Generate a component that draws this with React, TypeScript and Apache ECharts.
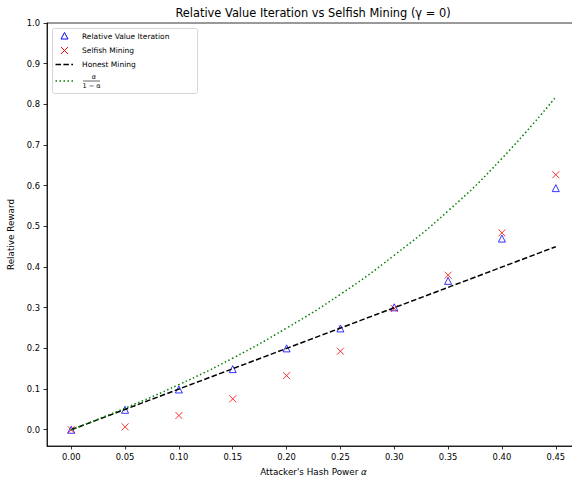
import React, { useEffect, useRef } from "react";
import * as echarts from "echarts";

const alphas = [0, 0.05, 0.1, 0.15, 0.2, 0.25, 0.3, 0.35, 0.4, 0.45];
const rviValues = [0.0, 0.049, 0.099, 0.149, 0.2, 0.249, 0.301, 0.366, 0.47, 0.594];
const selfishValues = [0.0, 0.007, 0.035, 0.076, 0.133, 0.193, 0.298, 0.38, 0.484, 0.627];
const honestValues = [0.0, 0.45];
const honestAlphas = [0, 0.45];
const ratioValues = [0.0, 0.053, 0.111, 0.176, 0.25, 0.333, 0.429, 0.538, 0.667, 0.818];
const xTicks = [0, 0.05, 0.1, 0.15, 0.2, 0.25, 0.3, 0.35, 0.4, 0.45];
const yTicks = [0, 0.1, 0.2, 0.3, 0.4, 0.5, 0.6, 0.7, 0.8, 0.9, 1.0];

const FONT = "DejaVu Sans";

export default function App() {
  const ref = useRef<HTMLDivElement>(null);
  useEffect(() => {
    if (!ref.current) return;
    const chart = echarts.init(ref.current, null, { renderer: "svg" });
    const axisCommon = {
      axisLine: { show: true, onZero: false, lineStyle: { color: "#000", width: 0.8 } },
      axisTick: { show: true, length: 3.5, lineStyle: { color: "#000", width: 0.8 } },
      splitLine: { show: false },
    };
    const legX = 52.5;
    const legY = 28.5;
    const textStyle = { fontFamily: FONT, fontSize: 7.5, fill: "#000" };
    chart.setOption({
      animation: false,
      title: {
        text: "Relative Value Iteration vs Selfish Mining (γ = 0)",
        left: 313,
        top: 7,
        padding: 0,
        textAlign: "center",
        textStyle: { fontFamily: FONT, fontSize: 11.4, fontWeight: "normal", color: "#000" },
      },
      grid: {
        left: 47,
        top: 23,
        width: 533,
        height: 423,
        show: true,
        borderColor: "#000",
        borderWidth: 0.8,
        outerBoundsMode: "none",
      },
      xAxis: {
        type: "value",
        min: -0.0225,
        max: 0.4725,
        ...axisCommon,
        axisTick: { ...axisCommon.axisTick, customValues: xTicks },
        axisLabel: {
          customValues: xTicks,
          formatter: (v: number) => v.toFixed(2),
          fontFamily: FONT,
          fontSize: 8.4,
          color: "#000",
          margin: 7,
        },
        name: "Attacker's Hash Power {i|α}",
        nameLocation: "middle",
        nameGap: 21,
        nameTextStyle: {
          fontFamily: FONT,
          fontSize: 8.8,
          color: "#000",
          rich: { i: { fontFamily: FONT, fontSize: 8.8, fontStyle: "italic", color: "#000" } },
        },
      },
      yAxis: {
        type: "value",
        min: -0.04,
        max: 1.0,
        ...axisCommon,
        axisTick: { ...axisCommon.axisTick, customValues: yTicks },
        axisLabel: {
          customValues: yTicks,
          formatter: (v: number) => v.toFixed(1),
          fontFamily: FONT,
          fontSize: 8.4,
          color: "#000",
          margin: 7,
        },
        name: "Relative Reward",
        nameLocation: "middle",
        nameGap: 19,
        nameTextStyle: { fontFamily: FONT, fontSize: 8.8, color: "#000" },
      },
      series: [
        {
          name: "Relative Value Iteration",
          type: "scatter",
          symbol: "triangle",
          symbolSize: 7,
          itemStyle: { color: "rgba(0,0,0,0)", borderColor: "#0000ff", borderWidth: 1 },
          data: alphas.map((a, i) => [a, rviValues[i]]),
          z: 2,
        },
        {
          name: "Selfish Mining",
          type: "scatter",
          symbol: "path://M0,0L10,10M10,0L0,10",
          symbolSize: 7,
          itemStyle: { color: "rgba(0,0,0,0)", borderColor: "#ff0000", borderWidth: 1 },
          data: alphas.map((a, i) => [a, selfishValues[i]]),
          z: 3,
        },
        {
          name: "Honest Mining",
          type: "line",
          symbol: "none",
          lineStyle: { color: "#000", width: 1.5, type: [5.5, 2.4] },
          data: honestAlphas.map((a, i) => [a, honestValues[i]]),
          z: 4,
        },
        {
          name: "alpha ratio",
          type: "line",
          symbol: "none",
          smooth: true,
          lineStyle: { color: "#008000", width: 1.5, type: [1.5, 2.5] },
          data: alphas.map((a, i) => [a, ratioValues[i]]),
          z: 5,
        },
      ],
      graphic: [
        {
          type: "rect",
          shape: { x: legX, y: legY, width: 145, height: 65, r: 2 },
          style: { fill: "rgba(255,255,255,0.8)", stroke: "#cccccc", lineWidth: 0.8 },
          z: 100,
        },
        {
          type: "polygon",
          shape: { points: [[64.5, 32.5], [61, 39], [68, 39]] },
          style: { fill: "none", stroke: "#0000ff", lineWidth: 1 },
          z: 101,
        },
        { type: "text", x: 82, y: 36, style: { ...textStyle, text: "Relative Value Iteration", verticalAlign: "middle" }, z: 101 },
        { type: "line", shape: { x1: 61, y1: 47, x2: 68, y2: 54 }, style: { stroke: "#ff0000", lineWidth: 1 }, z: 101 },
        { type: "line", shape: { x1: 68, y1: 47, x2: 61, y2: 54 }, style: { stroke: "#ff0000", lineWidth: 1 }, z: 101 },
        { type: "text", x: 82, y: 50.5, style: { ...textStyle, text: "Selfish Mining", verticalAlign: "middle" }, z: 101 },
        {
          type: "line",
          shape: { x1: 55.5, y1: 64.5, x2: 73, y2: 64.5 },
          style: { stroke: "#000", lineWidth: 1.5, lineDash: [5.5, 2.4] },
          z: 101,
        },
        { type: "text", x: 82, y: 64.5, style: { ...textStyle, text: "Honest Mining", verticalAlign: "middle" }, z: 101 },
        {
          type: "line",
          shape: { x1: 55.5, y1: 81, x2: 73, y2: 81 },
          style: { stroke: "#008000", lineWidth: 1.5, lineDash: [1.5, 2.5] },
          z: 101,
        },
        {
          type: "text",
          x: 94,
          y: 77,
          style: { fontFamily: FONT, fontSize: 6.5, fontStyle: "italic", fill: "#000", text: "α", align: "center", verticalAlign: "middle" },
          z: 101,
        },
        { type: "line", shape: { x1: 83, y1: 81, x2: 100, y2: 81 }, style: { stroke: "#000", lineWidth: 0.6 }, z: 101 },
        {
          type: "text",
          x: 91.5,
          y: 85.5,
          style: { fontFamily: FONT, fontSize: 6.5, fill: "#000", text: "1 − α", align: "center", verticalAlign: "middle" },
          z: 101,
        },
      ],
    });
    return () => chart.dispose();
  }, []);
  return (
    <div style={{ position: "fixed", left: 0, top: 0, width: 572, height: 482, overflow: "hidden", background: "#fff" }}>
      <div ref={ref} style={{ width: 600, height: 482 }} />
    </div>
  );
}
